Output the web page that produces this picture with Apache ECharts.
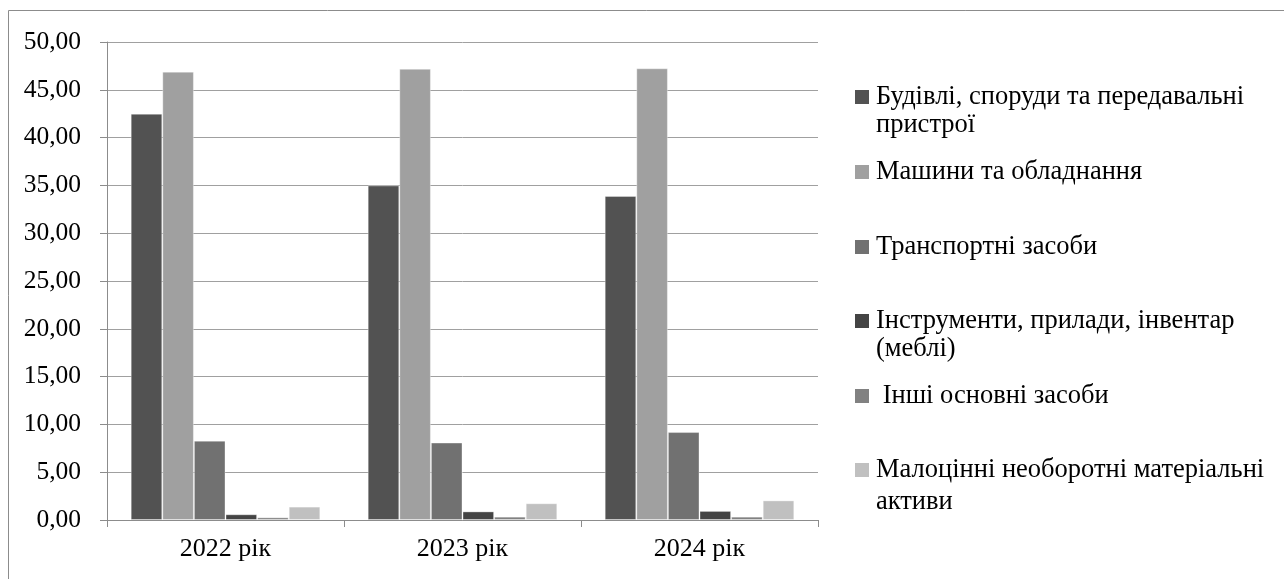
<!DOCTYPE html>
<html>
<head>
<meta charset="utf-8">
<script src="https://cdn.jsdelivr.net/npm/echarts@6/dist/echarts.min.js"></script>
<style>
html,body{margin:0;padding:0;background:#fff;}
#chart{width:1284px;height:579px;}
</style>
</head>
<body>
<div id="chart"></div>
<script>
const categories = ['2022 рік', '2023 рік', '2024 рік'];
const seriesNames = [
  'Будівлі, споруди та передавальні\nпристрої',
  'Машини та обладнання',
  'Транспортні засоби',
  'Інструменти, прилади, інвентар\n(меблі)',
  ' Інші основні засоби',
  'Малоцінні необоротні матеріальні\nактиви'
];
const buildings = [42.5, 35.0, 33.9];
const machines = [46.9, 47.2, 47.25];
const transport = [8.3, 8.1, 9.2];
const tools = [0.6, 0.9, 0.95];
const other = [0.28, 0.35, 0.35];
const lowValue = [1.4, 1.75, 2.05];
const yTicks = [0, 5, 10, 15, 20, 25, 30, 35, 40, 45, 50];

const seriesData = [buildings, machines, transport, tools, other, lowValue];
const colors = ['#525252', '#a0a0a0', '#717171', '#444444', '#818181', '#c0c0c0'];
const FONT = 'Liberation Serif';

const legendTops = [83, 158, 233, 307, 382, 454];
const legendLineHeights = [28, 28, 28, 28, 28, 32];
const legends = seriesNames.map((n, i) => {
  const twoLine = n.indexOf('\n') >= 0;
  const lh = legendLineHeights[i];
  const h = twoLine ? 14 + lh : 14;
  return {
    data: [{name: n, icon: twoLine ? 'path://M0,0L14,0L14,14L0,14Z M14,' + h + 'L14,' + h : 'rect'}],
    orient: 'vertical',
    left: 855,
    top: legendTops[i],
    padding: 0,
    itemWidth: 14,
    itemHeight: h,
    selectedMode: false,
    itemStyle: {borderWidth: 0},
    textStyle: {
      fontFamily: FONT,
      fontSize: 26.5,
      color: '#000',
      lineHeight: lh,
      padding: [0, 0, 0, 2]
    }
  };
});

const chart = echarts.init(document.getElementById('chart'), null, {renderer: 'canvas'});
chart.setOption({
  animation: false,
  backgroundColor: '#fff',
  color: colors,
  graphic: [{
    type: 'rect',
    shape: {x: 8.5, y: 10.5, width: 1400, height: 700},
    style: {fill: 'none', stroke: '#8c8c8c', lineWidth: 1},
    silent: true
  }],
  legend: legends,
  grid: {left: 107, right: 466, top: 42, bottom: 59},
  xAxis: {
    type: 'category',
    data: categories,
    axisLine: {lineStyle: {color: '#8c8c8c', width: 1}},
    axisTick: {show: true, length: 7, lineStyle: {color: '#8c8c8c'}},
    axisLabel: {fontFamily: FONT, fontSize: 26, color: '#000', margin: 16}
  },
  yAxis: {
    type: 'value',
    min: yTicks[0],
    max: yTicks[yTicks.length - 1],
    interval: 5,
    axisLine: {show: true, lineStyle: {color: '#8c8c8c', width: 1}},
    axisTick: {show: true, length: 7, lineStyle: {color: '#8c8c8c'}},
    splitLine: {lineStyle: {color: '#a0a0a0', width: 1}},
    axisLabel: {
      fontFamily: FONT, fontSize: 25.5, color: '#000', margin: 26,
      formatter: v => v.toFixed(2).replace('.', ',')
    }
  },
  series: seriesData.map((d, i) => ({
    type: 'bar',
    name: seriesNames[i],
    data: d,
    barGap: '0%',
    barCategoryGap: '20%',
    itemStyle: {color: colors[i], borderColor: 'rgba(255,255,255,0.35)', borderWidth: 1}
  }))
});
</script>
</body>
</html>
